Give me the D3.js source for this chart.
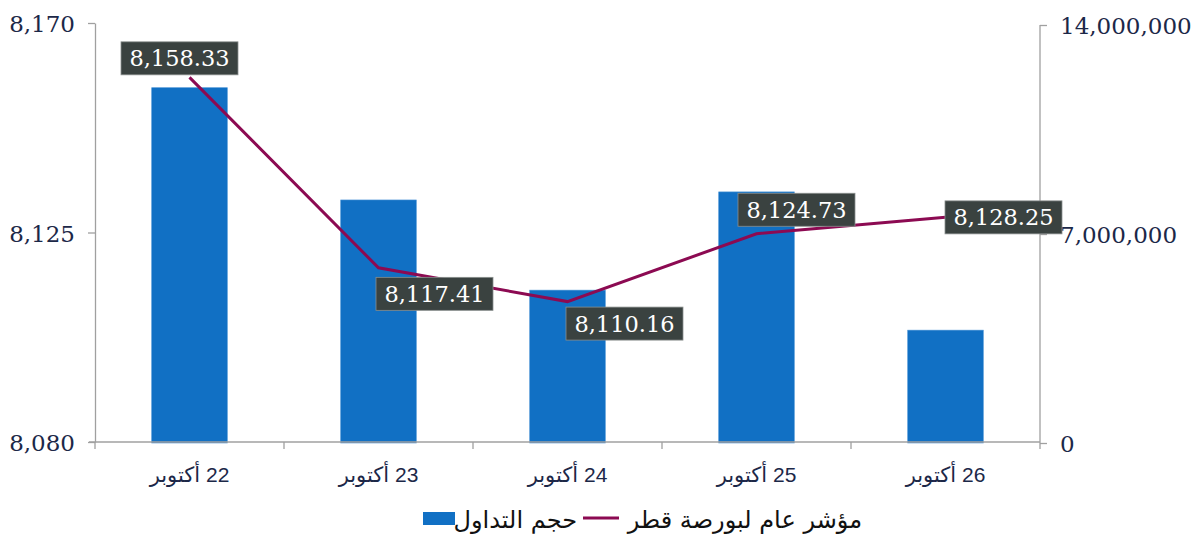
<!DOCTYPE html>
<html><head><meta charset="utf-8">
<script src="https://cdn.jsdelivr.net/npm/d3@7/dist/d3.min.js"></script>
<style>
html,body{margin:0;padding:0;background:#fff;}
svg{display:block;}
</style></head>
<body>
<svg id="chart" width="1200" height="544"></svg>
<script>
const categories = ["22 أكتوبر","23 أكتوبر","24 أكتوبر","25 أكتوبر","26 أكتوبر"];
const volume = [11900000, 8140000, 5120000, 8410000, 3780000];
const indexValues = [8158.33, 8117.41, 8110.16, 8124.73, 8128.25];
const leftTicks = [8080, 8125, 8170];
const rightTicks = [0, 7000000, 14000000];
const seriesNames = ["حجم التداول", "مؤشر عام لبورصة قطر"];

// label placement (style): offsets of label box centre from point
const labelOffsets = [[-10,-19],[56,26],[57,22],[40,-24],[58,0]];

const W=1200,H=544, m={top:23,right:160,bottom:102,left:95};
const svg=d3.select("#chart");
const iw=W-m.left-m.right, ih=H-m.top-m.bottom;
const g=svg.append("g").attr("transform",`translate(${m.left},${m.top})`);

const x=d3.scaleBand().domain(categories).range([0,iw]).padding(0);
const yL=d3.scaleLinear().domain([8080,8170]).range([ih,0]);
const yR=d3.scaleLinear().domain([0,14000000]).range([ih+1,2]);

const axisColor="#a0a0a0", textColor="#1c2848";
const barColor="#1170c4", lineColor="#8c0a52";

// bars
const bw=x.bandwidth()*0.4;
g.selectAll("rect.bar").data(volume).join("rect")
 .attr("x",(d,i)=>x(categories[i])+(x.bandwidth()-bw)/2)
 .attr("width",bw)
 .attr("y",d=>yR(d)).attr("height",d=>yR(0)-yR(d))
 .attr("fill",barColor).attr("stroke","#4d94d6").attr("stroke-width",0.6);

// axes
function styleAxis(sel){
  sel.selectAll("path.domain").attr("stroke",axisColor).attr("stroke-width",1.3);
  sel.selectAll(".tick line").attr("stroke",axisColor).attr("stroke-width",1.3);
  sel.selectAll(".tick text").attr("fill",textColor);
}
const aL=g.append("g").call(d3.axisLeft(yL).tickValues(leftTicks).tickFormat(d3.format(",")).tickSizeInner(7).tickSizeOuter(0).tickPadding(13));
aL.selectAll(".tick text").attr("font-family","DejaVu Serif").attr("font-size",23).attr("dy","0.38em");
styleAxis(aL);
const aR=g.append("g").attr("transform",`translate(${iw},0)`).call(d3.axisRight(yR).tickValues(rightTicks).tickFormat(d3.format(",")).tickSizeInner(7).tickSizeOuter(0).tickPadding(13));
aR.selectAll(".tick text").attr("font-family","DejaVu Serif").attr("font-size",23).attr("dy","0.38em");
styleAxis(aR);
aR.select("path.domain").attr("d",`M0,${yR(14000000)}V${ih}`);

const aB=g.append("g").attr("transform",`translate(0,${ih})`).call(d3.axisBottom(x).tickSize(0).tickPadding(25));
aB.selectAll(".tick text").attr("font-family","Liberation Sans, DejaVu Sans").attr("font-size",21).attr("direction","rtl").attr("fill",textColor);
styleAxis(aB);
aB.select("path.domain").attr("d",`M-6,0H${iw}`);
// boundary ticks
const bounds=categories.map(c=>x(c)).concat([iw]);
aB.selectAll("line.bt").data(bounds).join("line").attr("class","bt")
 .attr("x1",d=>d).attr("x2",d=>d).attr("y1",0).attr("y2",7)
 .attr("stroke",axisColor).attr("stroke-width",1.3);

// line
const cx=i=>x(categories[i])+x.bandwidth()/2;
const line=d3.line().x((d,i)=>cx(i)).y(d=>yL(d));
g.append("path").datum(indexValues).attr("d",line).attr("fill","none")
 .attr("stroke",lineColor).attr("stroke-width",3);

// data labels
const lbl=g.selectAll("g.lbl").data(indexValues).join("g").attr("class","lbl")
 .attr("transform",(d,i)=>`translate(${cx(i)+labelOffsets[i][0]},${yL(d)+labelOffsets[i][1]})`);
lbl.append("rect").attr("x",-58.5).attr("y",-16.5).attr("width",117).attr("height",33)
 .attr("fill","#3a4240").attr("stroke","#8a8f8e").attr("stroke-width",0.8);
lbl.append("text").text(d=>d3.format(",.2f")(d)).attr("text-anchor","middle").attr("dy","0.36em")
 .attr("font-family","DejaVu Serif").attr("font-size",22.5).attr("fill","#fff");

// legend
const lg=svg.append("g");
lg.append("rect").attr("x",423).attr("y",512).attr("width",32).attr("height",13).attr("fill",barColor);
lg.append("text").text(seriesNames[0]).attr("x",577).attr("y",528).attr("text-anchor","start")
 .attr("direction","rtl").attr("font-family","DejaVu Sans").attr("font-size",24).attr("fill","#111");
lg.append("line").attr("x1",583).attr("x2",619).attr("y1",518).attr("y2",518).attr("stroke",lineColor).attr("stroke-width",3);
lg.append("text").text(seriesNames[1]).attr("x",862).attr("y",528).attr("text-anchor","start")
 .attr("direction","rtl").attr("font-family","DejaVu Sans").attr("font-size",24).attr("fill","#111");
</script>
</body></html>
